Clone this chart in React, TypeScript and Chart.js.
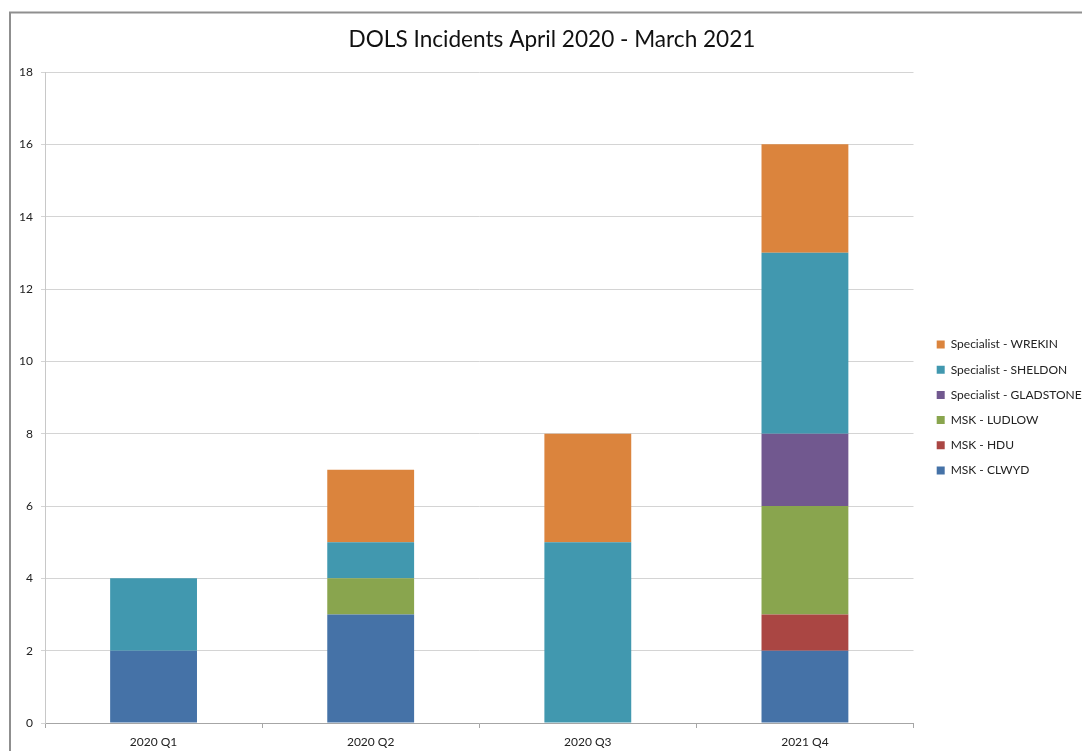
import React, { useEffect, useRef } from "react";
import { Chart, registerables } from "chart.js";

Chart.register(...registerables);

const categories = ["2020 Q1", "2020 Q2", "2020 Q3", "2021 Q4"];
const seriesNames = [
  "MSK - CLWYD",
  "MSK - HDU",
  "MSK - LUDLOW",
  "Specialist - GLADSTONE",
  "Specialist - SHELDON",
  "Specialist - WREKIN",
];
const mskClwyd = [2, 3, 0, 2];
const mskHdu = [0, 0, 0, 1];
const mskLudlow = [0, 1, 0, 3];
const specGladstone = [0, 0, 0, 2];
const specSheldon = [2, 1, 5, 5];
const specWrekin = [0, 2, 3, 3];
const seriesColors = ["#4572A7", "#AA4643", "#89A54E", "#71588F", "#4198AF", "#DB843D"];
const yMin = 0;
const yMax = 18;
const yStep = 2;
const titleText = "DOLS Incidents April 2020 - March 2021";

const FONT = "Lato, 'Open Sans', sans-serif";

export default function App() {
  const ref = useRef<HTMLCanvasElement | null>(null);
  useEffect(() => {
    if (!ref.current) return;
    const values = [mskClwyd, mskHdu, mskLudlow, specGladstone, specSheldon, specWrekin];
    const layoutTweaks = {
      id: "layoutTweaks",
      beforeUpdate(chart: any) {
        const lg = chart.legend;
        if (lg && !lg.__patched) {
          const orig = lg.fit.bind(lg);
          lg.fit = function () {
            orig();
            this.width = 168.5;
          };
          lg.__patched = true;
        }
      },
      afterLayout(chart: any) {
        const lg = chart.legend;
        if (lg) {
          lg.left += 10;
          lg.top += 26;
          lg.bottom += 26;
        }
        const tb = chart.titleBlock;
        if (tb) {
          tb.left += 12;
        }
      },
      beforeDraw(chart: any) {
        const ctx = chart.ctx;
        ctx.save();
        ctx.strokeStyle = "#8f8f8f";
        ctx.lineWidth = 2;
        ctx.beginPath();
        ctx.moveTo(10, 751);
        ctx.lineTo(10, 12.5);
        ctx.lineTo(1082, 12.5);
        ctx.stroke();
        ctx.restore();
      },
    };
    const chart = new Chart(ref.current, {
      type: "bar",
      data: {
        labels: categories,
        datasets: seriesNames.map((name, i) => ({
          label: name,
          data: values[i],
          backgroundColor: seriesColors[i],
          borderWidth: 0,
          barPercentage: 0.4,
          categoryPercentage: 1,
        })),
      },
      options: {
        animation: false,
        responsive: false,
        maintainAspectRatio: false,
        layout: { padding: { left: 10, top: 12, right: 0, bottom: 0 } },
        plugins: {
          title: {
            display: true,
            text: titleText,
            color: "#111",
            font: { family: FONT, size: 22.6, weight: "normal" },
            padding: { top: 14, bottom: 18.9 },
          },
          legend: {
            display: true,
            position: "right",
            reverse: true,
            labels: {
              boxWidth: 8,
              boxHeight: 8,
              padding: 13.2,
              color: "#222",
              font: { family: FONT, size: 12 },
            },
          },
          tooltip: { enabled: false },
        },
        scales: {
          x: {
            stacked: true,
            offset: true,
            grid: {
              offset: true,
              drawOnChartArea: false,
              drawTicks: true,
              tickLength: 5,
              color: "#a6a6a6",
            },
            border: { display: true, color: "#a6a6a6" },
            ticks: { color: "#222", padding: 7, font: { family: FONT, size: 12 } },
            afterFit(scale: any) {
              scale.height = 28;
            },
          },
          y: {
            stacked: true,
            min: yMin,
            max: yMax,
            grid: { color: "#d4d4d4", tickLength: 4, drawTicks: true },
            border: { display: true, color: "#c8c8c8" },
            ticks: { stepSize: yStep, color: "#222", padding: 8, font: { family: FONT, size: 12 } },
            afterFit(scale: any) {
              scale.width = 35;
            },
          },
        },
      },
      plugins: [layoutTweaks],
    } as any);
    return () => chart.destroy();
  }, []);
  return (
    <div style={{ position: "fixed", left: 0, top: 0, width: 1082, height: 751, background: "#fff" }}>
      <canvas ref={ref} width={1082} height={751} style={{ width: 1082, height: 751, display: "block" }} />
    </div>
  );
}
